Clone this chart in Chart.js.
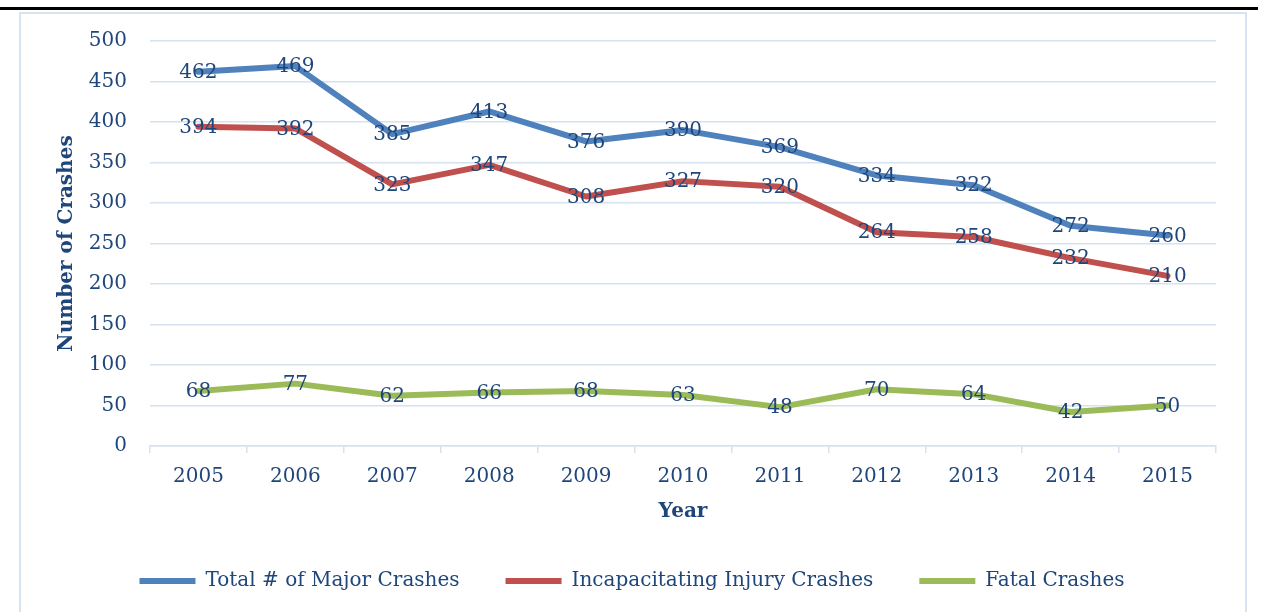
<!DOCTYPE html>
<html>
<head>
<meta charset="utf-8">
<script src="https://cdn.jsdelivr.net/npm/chart.js@4.4.1/dist/chart.umd.min.js"></script>
<style>
  html, body { margin: 0; padding: 0; background: #fff; overflow: hidden; }
  #topRule { position: absolute; left: 0; top: 7px; width: 1258px; height: 3px; background: #000; }
  #frame { position: absolute; left: 19px; top: 12px; width: 1224px; height: 640px; border: 2px solid #d6e3f1; }
  #chart { position: absolute; left: 0; top: 0; }
</style>
</head>
<body>
<div id="topRule"></div>
<div id="frame"></div>
<canvas id="chart" width="1265" height="612"></canvas>
<script>
const years = ['2005', '2006', '2007', '2008', '2009', '2010', '2011', '2012', '2013', '2014', '2015'];
const majorCrashes = [462, 469, 385, 413, 376, 390, 369, 334, 322, 272, 260];
const injuryCrashes = [394, 392, 323, 347, 308, 327, 320, 264, 258, 232, 210];
const fatalCrashes = [68, 77, 62, 66, 68, 63, 48, 70, 64, 42, 50];

const textColor = '#1f467a';
const gridColor = '#d6e2f0';
const fontFamily = '"DejaVu Serif", serif';

// labels sit centered on each point, like Excel's "Center" position
const pointLabels = {
    id: 'pointLabels',
    afterDatasetsDraw(chart) {
        const ctx = chart.ctx;
        ctx.save();
        ctx.font = '20px ' + fontFamily;
        ctx.fillStyle = textColor;
        ctx.textAlign = 'center';
        ctx.textBaseline = 'middle';
        chart.data.datasets.forEach((ds, i) => {
            chart.getDatasetMeta(i).data.forEach((pt, j) => {
                ctx.fillText(ds.data[j], pt.x, pt.y + 1);
            });
        });
        ctx.restore();
    }
};

function lineSet(label, data, color) {
    return {
        label: label,
        data: data,
        borderColor: color,
        backgroundColor: color,
        borderWidth: 6,
        borderCapStyle: 'round',
        borderJoinStyle: 'round',
        pointRadius: 0,
        pointHoverRadius: 0,
        tension: 0,
        fill: false
    };
}

new Chart(document.getElementById('chart').getContext('2d'), {
    type: 'line',
    data: {
        labels: years,
        datasets: [
            lineSet('Total # of Major Crashes', majorCrashes, '#4f81bd'),
            lineSet('Incapacitating Injury Crashes', injuryCrashes, '#c0504d'),
            lineSet('Fatal Crashes', fatalCrashes, '#9bbb59')
        ]
    },
    options: {
        responsive: false,
        animation: false,
        layout: { padding: { left: 48, right: 49, top: 41, bottom: 11 } },
        scales: {
            x: {
                offset: true,
                afterFit: (scale) => { scale.height = 79; },
                grid: { offset: true, drawOnChartArea: false, color: gridColor, lineWidth: 1.5, tickLength: 7 },
                border: { color: gridColor, width: 1.5 },
                ticks: { padding: 12, color: textColor, font: { family: fontFamily, size: 20 } },
                title: {
                    display: true, text: 'Year', color: textColor,
                    font: { family: fontFamily, size: 20, weight: 'bold' },
                    padding: { top: 1, bottom: 1 }
                }
            },
            y: {
                min: 0,
                max: 500,
                afterFit: (scale) => { scale.width = 102; },
                ticks: { stepSize: 50, padding: 23, color: textColor, font: { family: fontFamily, size: 20 } },
                grid: { drawTicks: false, color: gridColor, lineWidth: 1.5 },
                border: { display: false },
                title: {
                    display: true, text: 'Number of Crashes', color: textColor,
                    font: { family: fontFamily, size: 20, weight: 'bold' },
                    padding: { top: 7, bottom: 8 }
                }
            }
        },
        plugins: {
            legend: {
                position: 'bottom',
                labels: {
                    usePointStyle: true,
                    pointStyle: 'line',
                    pointStyleWidth: 56,
                    padding: 46,
                    color: textColor,
                    font: { family: fontFamily, size: 20 }
                }
            },
            tooltip: { enabled: false }
        }
    },
    plugins: [pointLabels]
});
</script>
</body>
</html>
